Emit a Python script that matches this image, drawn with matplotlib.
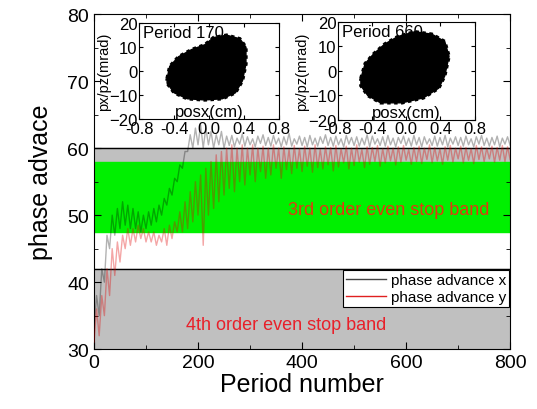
import numpy as np
import matplotlib
matplotlib.use("Agg")
import matplotlib.pyplot as plt

plt.rcParams['font.family'] = ['Liberation Sans', 'DejaVu Sans']

# phase advance x, every 5 periods (0..800)
phase_x = [33, 38, 35, 42, 40, 47, 45, 50, 47, 51,
           48, 52, 48.5, 51.5, 48, 51, 48, 50.5, 47.5, 50,
           48, 50.5, 48.5, 51, 49, 51.5, 50, 52.5, 51.5, 54,
           53, 55.5, 55, 57.5, 57, 59.5, 59.5, 62, 60, 63,
           60.5, 63.5, 60, 63, 60.5, 62.5, 60, 62, 60.5, 62.5,
           60, 61.8,
           60.4, 61.9, 60.2, 61.5, 60.6, 62.1, 60.3, 61.7, 60.5, 61.4,
           60.2, 61.8, 60.7, 62.0, 60.4, 61.6, 60.3, 61.9, 60.6, 61.5,
           60.2, 61.7, 60.5, 62.2, 60.3, 61.4, 60.6, 61.8, 60.4, 61.6,
           60.2, 61.9, 60.5, 61.5, 60.3, 61.7, 60.7, 62.0, 60.4, 61.6,
           60.3, 61.8, 60.5, 61.4, 60.2, 61.9, 60.6, 61.6, 60.4, 61.7,
           60.3, 61.5, 60.5, 62.0, 60.2, 61.8, 60.6, 61.4, 60.4, 61.7,
           60.3, 61.9, 60.5, 61.5, 60.2, 61.6, 60.7, 61.8, 60.4, 61.5,
           60.3, 61.9, 60.5, 61.6, 60.2, 61.7, 60.6, 61.4, 60.4, 61.8,
           60.3, 61.6, 60.5, 61.9, 60.2, 61.5, 60.6, 61.7, 60.4, 61.6,
           60.3, 61.8, 60.5, 61.4, 60.2, 61.7, 60.6, 61.9, 60.4, 61.5,
           60.3, 61.6, 60.5, 61.8, 60.2, 61.5, 60.6, 61.7, 60.4]

# phase advance y, every 5 periods (0..800)
phase_y = [31, 36, 32, 38, 35, 42, 38, 45, 41, 46,
           43, 47, 45, 48, 45.5, 48, 46, 48.5, 46.5, 48,
           46, 47.5, 46, 47.5, 45.5, 47, 46, 48, 45.5, 48.5,
           46.5, 49, 47.5, 50.5, 47.5, 52, 48, 53.5, 49, 55,
           50, 56, 45.5, 57, 50, 58, 51, 59, 52, 59.5,
           53, 60, 54, 60.5, 53.5, 60, 55, 60.5, 54.5, 60,
           56, 60.5, 55, 60, 56.5, 60.3, 55.5, 60, 56, 60.5,
           57, 60,
           55.5, 60.2, 56.8, 59.8, 56.2, 60.4, 57.0, 59.9, 56.5, 60.3,
           57.3, 60.0, 56.4, 60.5, 57.1, 59.8, 56.9, 60.2, 57.5, 60.1,
           56.6, 60.4, 57.2, 59.9, 57.8, 60.3, 56.9, 60.0, 57.4, 60.5,
           57.9, 59.8, 57.1, 60.2, 57.6, 60.1, 58.0, 60.4, 57.3, 59.9,
           57.8, 60.3, 58.1, 60.0, 57.5, 60.2, 57.9, 60.4, 58.2, 59.8,
           57.6, 60.1, 58.0, 60.3, 57.7, 60.0, 58.3, 60.5, 57.8, 60.1,
           58.1, 59.9, 57.6, 60.2, 58.2, 60.4, 57.9, 60.0, 58.4, 60.3,
           57.8, 60.1, 58.2, 59.9, 57.7, 60.4, 58.3, 60.2, 58.0, 60.0,
           58.4, 60.3, 57.9, 60.1, 58.2, 60.4, 58.0, 60.2, 58.3]

# stop bands (phase advance limits)
band_4th = (30, 42)
band_upper = (58, 60)
band_3rd = (47.5, 58)

# phase space outlines (posx cm, px/pz mrad)
cloud170_x = [-0.48, -0.45, -0.35, -0.2, -0.05, 0.05, 0.2, 0.35, 0.42, 0.42,
              0.38, 0.3, 0.15, -0.05, -0.25, -0.4, -0.48]
cloud170_y = [-3, 2, 6, 9, 11, 14, 15, 13.5, 10, 3,
              -4, -9, -11.5, -12, -11.5, -9, -5]
cloud660_x = [-0.53, -0.48, -0.38, -0.25, -0.1, 0.1, 0.3, 0.45, 0.5, 0.45,
              0.38, 0.2, -0.05, -0.3, -0.45, -0.53]
cloud660_y = [-3, 3, 7, 11, 14, 16, 15, 12, 6, -2,
              -7, -11, -13, -13, -10, -6]

fig = plt.figure(figsize=(5.37, 4.10), dpi=100)
ax = fig.add_axes([0.175, 0.146, 0.775, 0.817])

ax.axhspan(*band_4th, color='#c0c0c0', zorder=0)
ax.axhspan(*band_upper, color='#c0c0c0', zorder=0)
ax.axhspan(*band_3rd, color='#00f000', zorder=0)
ax.axhline(band_4th[1], color='black', lw=1, zorder=1)
ax.axhline(band_upper[1], color='black', lw=1, zorder=1)

xs = np.linspace(0, 800, len(phase_x))
ys = np.linspace(0, 800, len(phase_y))
ax.plot(xs, phase_x, color='black', lw=1.0, alpha=0.3, zorder=2)
ax.plot(ys, phase_y, color='#e00000', lw=1.0, alpha=0.35, zorder=3)
# legend proxies
ax.plot([], [], color='#444444', lw=1, label='phase advance x')
ax.plot([], [], color='#e02020', lw=1, label='phase advance y')

ax.text(567, 50.9, '3rd order even stop band', color='#e03a10',
        fontsize=13, ha='center', va='center', zorder=4)
ax.text(369, 33.7, '4th order even stop band', color='#e8202a',
        fontsize=13, ha='center', va='center', zorder=4)

ax.set_xlim(0, 800)
ax.set_ylim(30, 80)
ax.set_xticks([0, 200, 400, 600, 800])
ax.set_xticks([100, 300, 500, 700], minor=True)
ax.set_yticks([30, 40, 50, 60, 70, 80])
ax.set_yticks([35, 45, 55, 65, 75], minor=True)
ax.tick_params(which='both', direction='in', right=True, top=True,
               labelsize=14)
ax.tick_params(which='major', length=5)
ax.tick_params(which='minor', length=3)
ax.set_xlabel('Period number', fontsize=18, labelpad=1)
ax.set_ylabel('phase advace', fontsize=18, labelpad=10)

leg = ax.legend(loc='upper left', bbox_to_anchor=(0.599, 0.236),
                fontsize=11, frameon=True, fancybox=False, framealpha=1,
                edgecolor='black', handlelength=2.6, borderpad=0.2,
                labelspacing=0.2, handletextpad=0.3, borderaxespad=0)
leg.get_frame().set_linewidth(0.8)
leg.set_zorder(5)


def inset(rect, cx, cy, title):
    a = fig.add_axes(rect)
    a.fill(cx, cy, color='black')
    a.fill(cx, cy, fc='none', ec='black', lw=2.5, ls=(0, (1, 1)))
    a.set_xlim(-0.8, 0.8)
    a.set_ylim(-20, 20)
    a.set_xticks([-0.8, -0.4, 0.0, 0.4, 0.8])
    a.set_xticklabels(['-0.8', '-0.4', '0.0', '0.4', '0.8'])
    a.set_yticks([-20, -10, 0, 10, 20])
    a.tick_params(direction='in', top=True, right=True, labelsize=12,
                  length=3, pad=1)
    a.set_ylabel('px/pz(mrad)', fontsize=10.5, labelpad=-1)
    a.text(0.03, 0.98, title, transform=a.transAxes, fontsize=12,
           ha='left', va='top')
    a.text(0.5, 0.0, 'posx(cm)', transform=a.transAxes, fontsize=12,
           ha='center', va='bottom')
    return a


inset([0.259, 0.707, 0.261, 0.234], cloud170_x, cloud170_y, 'Period 170')
inset([0.629, 0.705, 0.255, 0.239], cloud660_x, cloud660_y, 'Period 660')

fig.savefig('out.png', dpi=100)
